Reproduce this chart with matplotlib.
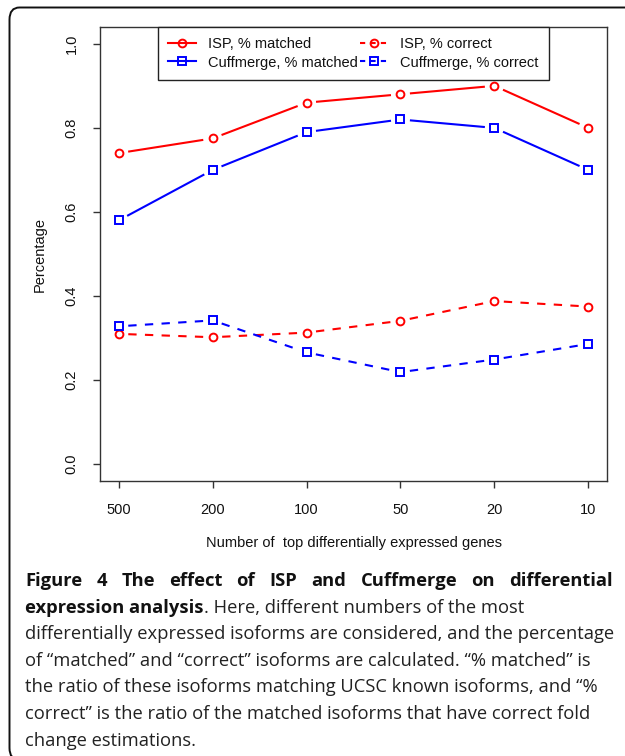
import numpy as np
import matplotlib
matplotlib.use("Agg")
import matplotlib.pyplot as plt
from matplotlib.lines import Line2D
from matplotlib.patches import FancyBboxPatch

# ---------------- data ----------------
categories = ["500", "200", "100", "50", "20", "10"]
isp_matched = [0.74, 0.775, 0.86, 0.88, 0.90, 0.80]
cuff_matched = [0.58, 0.70, 0.79, 0.82, 0.80, 0.70]
isp_correct = [0.310, 0.302, 0.313, 0.341, 0.388, 0.375]
cuff_correct = [0.328, 0.342, 0.266, 0.219, 0.249, 0.286]
y_ticks = [0.0, 0.2, 0.4, 0.6, 0.8, 1.0]
legend_labels = ["ISP, % matched", "Cuffmerge, % matched",
                 "ISP, % correct", "Cuffmerge, % correct"]
x_label = "Number of  top differentially expressed genes"
y_label = "Percentage"
caption_bold1 = "Figure 4 The effect of ISP and Cuffmerge on differential"
caption_bold2 = "expression analysis"
caption_rest2 = ". Here, different numbers of the most"
caption_lines = [
    "differentially expressed isoforms are considered, and the percentage",
    "of \u201cmatched\u201d and \u201ccorrect\u201d isoforms are calculated. \u201c% matched\u201d is",
    "the ratio of these isoforms matching UCSC known isoforms, and \u201c%",
    "correct\u201d is the ratio of the matched isoforms that have correct fold",
    "change estimations.",
]

W, H = 625, 756
DPI = 100
plt.rcParams['font.family'] = ['Liberation Sans', 'DejaVu Sans']
fig = plt.figure(figsize=(W / DPI, H / DPI), dpi=DPI)
fig.patch.set_facecolor("white")

# axes placement in pixels
L, R, T, B = 100, 607, 27, 481
ax = fig.add_axes([L / W, 1 - B / H, (R - L) / W, (B - T) / H])
x = np.arange(1, len(categories) + 1)
ax.set_xlim(0.8, 6.2)
ax.set_ylim(-0.04, 1.04)

RED = "#FF0000"
BLUE = "#0000FF"
LW = 1.5
MS = 5.6
MEW = 1.4
GAP = 9.5  # px gap around markers (R type="b")


def gapped(xv, yv, color, ls, marker):
    pts = ax.transData.transform(np.column_stack([xv, yv]))
    inv = ax.transData.inverted()
    for p0, p1 in zip(pts[:-1], pts[1:]):
        d = p1 - p0
        Ls = np.hypot(*d)
        u = d / Ls
        a = p0 + u * GAP
        b = p1 - u * GAP
        seg = inv.transform(np.array([a, b]))
        ax.plot(seg[:, 0], seg[:, 1], color=color, lw=LW, linestyle=ls,
                solid_capstyle='butt', dash_capstyle='butt')
    ax.plot(xv, yv, linestyle='none', marker=marker, ms=MS, mfc='none',
            mec=color, mew=MEW)


DASH = (0, (4, 4))
gapped(x, isp_matched, RED, '-', 'o')
gapped(x, cuff_matched, BLUE, '-', 's')
gapped(x, isp_correct, RED, DASH, 'o')
gapped(x, cuff_correct, BLUE, DASH, 's')

AXC = "#333333"
for s in ax.spines.values():
    s.set_color(AXC)
    s.set_linewidth(1.0)
ax.set_xticks(x)
ax.set_xticklabels(categories)
ax.set_yticks(y_ticks)
ax.set_yticklabels([f"{v:.1f}" for v in y_ticks], rotation=90, va='center')
ax.tick_params(direction='out', length=5, width=1.0, color=AXC,
               labelsize=10.5, pad=10.5, labelcolor='#111111')

ax.set_xlabel(x_label, fontsize=10.5, color='#111111')
ax.set_ylabel(y_label, fontsize=10.5, color='#111111')
ax.xaxis.set_label_coords(0.5, (B - 543) / (B - T))
ax.xaxis.label.set_va('center')
ax.yaxis.set_label_coords((40 - L) / (R - L), 0.5)
ax.yaxis.label.set_va('center')

handles = [
    Line2D([], [], color=RED, lw=LW, marker='o', ms=MS, mfc='none', mew=MEW),
    Line2D([], [], color=BLUE, lw=LW, marker='s', ms=MS, mfc='none', mew=MEW),
    Line2D([], [], color=RED, lw=LW, ls=(0, (2.5, 2.5)), marker='o', ms=MS,
           mfc='none', mew=MEW),
    Line2D([], [], color=BLUE, lw=LW, ls=(0, (2.5, 2.5)), marker='s', ms=MS,
           mfc='none', mew=MEW),
]
leg = ax.legend(handles, legend_labels, ncol=2, loc='upper center',
                bbox_to_anchor=(0.5, 1.0), borderaxespad=0, fontsize=10.5,
                frameon=True, fancybox=False, framealpha=1,
                edgecolor='#222222', handlelength=1.9, handletextpad=0.85,
                columnspacing=0.15, labelspacing=0.28, borderpad=0.72)
leg.get_frame().set_linewidth(1.0)
for t in leg.get_texts():
    t.set_color('#111111')

# ---------- outer rounded border ----------
border = FancyBboxPatch((9.5 / W, -4 / H), (640 - 9.5) / W, (H - 7.5 + 4) / H,
                        boxstyle="round,pad=0,rounding_size=0.016",
                        transform=fig.transFigure, fill=False,
                        edgecolor='#111111', lw=1.4, clip_on=False)
fig.patches.append(border)

# ---------- caption ----------
renderer = fig.canvas.get_renderer()
CAPF = ['Open Sans', 'DejaVu Sans']
X0, X1 = 25, 613


def px(xp, yp):
    return xp / W, 1 - yp / H


probe = fig.text(0, 0, caption_lines[0], fontsize=12, family=CAPF)
wprobe = probe.get_window_extent(renderer).width
probe.remove()
CS = 12 * (612 - X0) / wprobe

baselines = [586 + 26.6 * i for i in range(7)]

# line 1: bold, justified
words = caption_bold1.split(" ")
widths = []
for w_ in words:
    t = fig.text(0, 0, w_, fontsize=CS, family=CAPF, weight='bold')
    widths.append(t.get_window_extent(renderer).width)
    t.remove()
gap = (X1 - X0 - sum(widths)) / (len(words) - 1)
xc = X0
for w_, wd in zip(words, widths):
    fig.text(*px(xc, baselines[0]), w_, fontsize=CS, family=CAPF,
             weight='bold', va='baseline', ha='left', color='#111111')
    xc += wd + gap

# line 2
tb = fig.text(*px(X0, baselines[1]), caption_bold2, fontsize=CS, family=CAPF,
              weight='bold', va='baseline', ha='left', color='#111111')
wb = tb.get_window_extent(renderer).width
fig.text(*px(X0 + wb, baselines[1]), caption_rest2, fontsize=CS, family=CAPF,
         va='baseline', ha='left', color='#222222')

for i, line in enumerate(caption_lines):
    fig.text(*px(X0, baselines[i + 2]), line, fontsize=CS, family=CAPF,
             va='baseline', ha='left', color='#222222')

fig.savefig("out.png", dpi=DPI)
